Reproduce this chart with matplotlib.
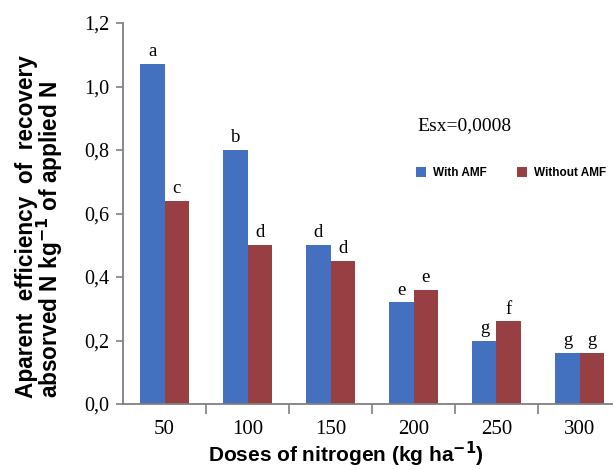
import matplotlib
matplotlib.use("Agg")
import matplotlib.pyplot as plt
import numpy as np

doses = ["50", "100", "150", "200", "250", "300"]
with_amf = [1.07, 0.80, 0.50, 0.32, 0.20, 0.16]
without_amf = [0.64, 0.50, 0.45, 0.36, 0.26, 0.16]
letters_with = ["a", "b", "d", "e", "g", "g"]
letters_without = ["c", "d", "d", "e", "f", "g"]
yticks = [0.0, 0.2, 0.4, 0.6, 0.8, 1.0, 1.2]
ytick_labels = ["0,0", "0,2", "0,4", "0,6", "0,8", "1,0", "1,2"]

blue = "#4471BF"
red = "#973F43"
serif = "Liberation Serif"
sans = "Liberation Sans"

fig = plt.figure(figsize=(6.14, 4.70), dpi=100)
W, H = 614, 470
ax = fig.add_axes([123 / W, 1 - 404 / H, (612 - 123) / W, (404 - 23) / H])

x = np.arange(len(doses))
bw = 0.29
ax.bar(x - bw / 2, with_amf, bw, color=blue, label="With AMF")
ax.bar(x + bw / 2, without_amf, bw, color=red, label="Without AMF")

for i in range(len(doses)):
    ax.text(x[i] - bw / 2, with_amf[i] + 0.012, letters_with[i], ha="center", va="bottom",
            fontsize=13.5, family=serif)
    ax.text(x[i] + bw / 2, without_amf[i] + 0.012, letters_without[i], ha="center", va="bottom",
            fontsize=13.5, family=serif)

ax.set_ylim(0, 1.2)
ax.set_xlim(-0.5, -0.5 + (612 - 123) / 83)
ax.set_yticks(yticks)
ax.set_yticklabels(ytick_labels, family=serif, fontsize=14.5)
ax.set_xticks(x)
ax.set_xticklabels(doses, family=serif, fontsize=15)
ax.tick_params(axis="x", length=0, pad=11.5)
ax.set_xticks(np.arange(0.5, len(doses) - 0.5, 1), minor=True)
ax.tick_params(axis="x", which="minor", length=7, color="#808080", width=1.2)
ax.tick_params(axis="y", length=5, color="#808080", width=1.2, pad=5)

for s in ["top", "right"]:
    ax.spines[s].set_visible(False)
for s in ["left", "bottom"]:
    ax.spines[s].set_color("#808080")
    ax.spines[s].set_linewidth(1.3)

fig.text(346 / W, 1 - 462 / H, "Doses of nitrogen (kg ha$^{\\mathbf{-1}}$)", family=sans,
         fontweight="bold", fontsize=15, ha="center", va="baseline")

fig.text(40 / W, 1 - 398 / H,
         "Aparent  efficiency  of  recovery\nabsorved N kg$^{\\mathbf{-1}}$ of applied N",
         family=sans, fontweight="bold", fontsize=16.3, rotation=90, ha="center", va="bottom",
         multialignment="left", linespacing=0.82)

fig.text(417 / W, 1 - 126 / H, "Esx=0,0008", family=serif, fontsize=14, va="center", ha="left")

leg = ax.legend(loc="center left", bbox_to_anchor=((416 - 123) / (612 - 123), (404 - 173) / (404 - 23)),
                ncol=2, frameon=False, prop={"family": sans, "weight": "bold", "size": 8.5},
                handlelength=0.85, handleheight=0.85, columnspacing=2.6, handletextpad=0.55,
                borderaxespad=0, borderpad=0)

fig.savefig("out.png", dpi=100)
